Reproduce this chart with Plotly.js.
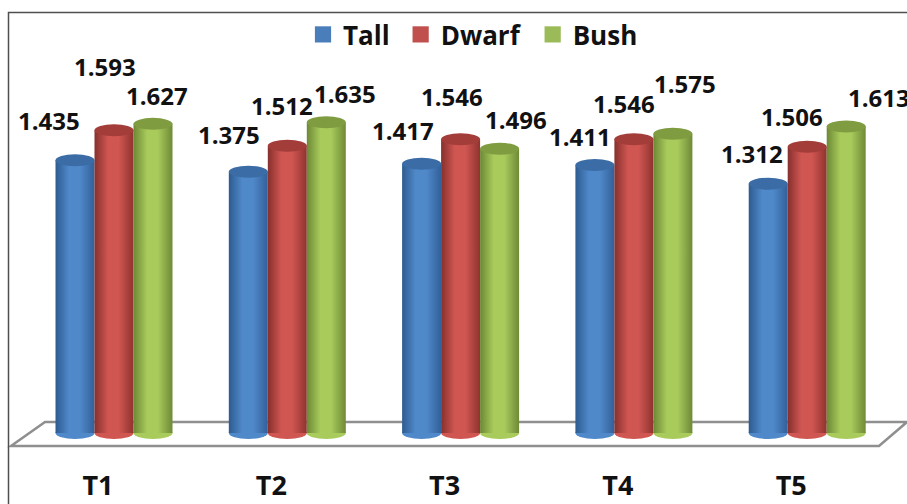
<!DOCTYPE html>
<html>
<head>
<meta charset="utf-8">
<script src="https://cdn.plot.ly/plotly-3.0.1.min.js"></script>
<style>html,body{margin:0;padding:0;background:#fff;overflow:hidden}#chart{width:907px;height:504px}</style>
</head>
<body>
<div id="chart"></div>
<script>
// Plant type means per treatment
const categories = ['T1', 'T2', 'T3', 'T4', 'T5'];
const tall  = [1.435, 1.375, 1.417, 1.411, 1.312];
const dwarf = [1.593, 1.512, 1.546, 1.546, 1.506];
const bush  = [1.627, 1.635, 1.496, 1.575, 1.613];
const seriesNames = ['Tall', 'Dwarf', 'Bush'];

// Hand-placed value label nudges, in pixels from each cylinder's top centre
const tallNudge  = [[-26, 40], [-19, 37], [-19, 33], [-15, 28], [-16, 30]];
const dwarfNudge = [[-9, 64], [-5, 40], [-9, 43], [-10, 36], [-15, 30]];
const bushNudge  = [[4, 28], [19, 29], [16, 29], [12, 50], [33, 29]];

// Extra spacing of the legend entries, in pixels
const legendShift = [0, 6, 12];

// Cylinder shading: edge, mid and cap tones per series
const tones = [
  {edgeL: '#2d5b90', mid: '#5089ca', edgeR: '#32609a', cap: '#3b6ca5', solid: '#4a7ebb'},
  {edgeL: '#86302d', mid: '#d05652', edgeR: '#8f332f', cap: '#a33d39', solid: '#c0504d'},
  {edgeL: '#6d8835', mid: '#a8cb5c', edgeR: '#6f8a36', cap: '#7f9c40', solid: '#9bbb59'}
];

const W = 907, H = 504;
const marginB = 54;
const plotH = H - marginB;
const catStep = 173.3;      // pixels between treatment groups
const firstCat = 114;       // pixel centre of the first group
const unitPx = 190;         // pixels per unit of value
const basePx = 433;         // pixel row of value zero
const barFrac = 0.225;      // one cylinder's width in category units
const capRy = 6 / unitPx;   // cap half height in value units

const xs = categories.map((_, i) => i);
const values = [tall, dwarf, bush];
const nudges = [tallNudge, dwarfNudge, bushNudge];

const px = v => v / W;
const py = v => (plotH - v) / plotH;

const traces = values.map((v, s) => ({
  type: 'bar', name: seriesNames[s], x: xs, y: v,
  marker: {color: tones[s].solid, line: {width: 0}},
  hoverinfo: 'x+y'
}));

const shapes = [];
// Floor parallelogram behind the cylinders
shapes.push({
  type: 'path', layer: 'below', xref: 'paper', yref: 'paper',
  path: `M${px(11)},${py(446)} L${px(879)},${py(446)} L${px(907)},${py(422)} L${px(45)},${py(422)} Z`,
  line: {color: '#8f8f8f', width: 2.5}, fillcolor: 'rgba(0,0,0,0)'
});
// Outer frame
shapes.push({
  type: 'path', layer: 'below', xref: 'paper', yref: 'paper',
  path: `M${px(8.5)},${py(504)} L${px(8.5)},${py(12.5)} L${px(907)},${py(12.5)}`,
  line: {color: '#4f4f4f', width: 1.5}
});
// Rounded base and top of each cylinder
values.forEach((v, s) => v.forEach((val, i) => {
  const c = xs[i] + (s - 1) * barFrac;
  const ell = (yc, fill, layer, name) => ({
    type: 'circle', xref: 'x', yref: 'y', layer, name,
    x0: c - barFrac / 2, x1: c + barFrac / 2,
    y0: yc - capRy, y1: yc + capRy,
    fillcolor: fill, line: {width: 0}
  });
  shapes.push(ell(0, tones[s].mid, 'below', `base-${s}`));
  shapes.push(ell(val, tones[s].cap, 'above', `cap-${s}`));
}));

const labelFont = {family: '"Open Sans", sans-serif', size: 24, color: '#111', weight: 700};
const annotations = [];
values.forEach((v, s) => v.forEach((val, i) => {
  annotations.push({
    x: xs[i] + (s - 1) * barFrac, y: val, xref: 'x', yref: 'y',
    text: val.toFixed(3), showarrow: false, font: labelFont,
    xshift: nudges[s][i][0], yshift: nudges[s][i][1],
    xanchor: 'center', yanchor: 'middle'
  });
}));

const layout = {
  width: W, height: H,
  margin: {l: 0, r: 0, t: 0, b: marginB, pad: 0},
  paper_bgcolor: '#fff', plot_bgcolor: 'rgba(0,0,0,0)',
  barmode: 'group', bargap: 1 - 3 * barFrac, bargroupgap: 0,
  showlegend: true,
  legend: {
    orientation: 'h', x: 303 / W, xanchor: 'left', y: 1 - 11 / plotH, yanchor: 'top',
    font: {family: '"Open Sans", sans-serif', size: 26, color: '#111', weight: 700},
    itemclick: false, itemdoubleclick: false, bgcolor: 'rgba(0,0,0,0)', itemwidth: 30
  },
  xaxis: {
    type: 'linear',
    range: [-firstCat / catStep, (W - firstCat) / catStep],
    tickmode: 'array',
    tickvals: xs.map(i => i - 16 / catStep),
    ticktext: categories,
    tickfont: {family: '"Open Sans", sans-serif', size: 27, color: '#111', weight: 700},
    ticks: 'outside', ticklen: 12, tickcolor: 'rgba(0,0,0,0)',
    showgrid: false, zeroline: false, showline: false, fixedrange: true
  },
  yaxis: {
    visible: false, fixedrange: true,
    range: [(basePx - plotH) / unitPx, basePx / unitPx]
  },
  shapes, annotations
};

Plotly.newPlot('chart', traces, layout, {displayModeBar: false}).then(gd => {
  const svg = gd.querySelector('.main-svg');
  const defs = svg.querySelector('defs');
  const NS = 'http://www.w3.org/2000/svg';
  tones.forEach((t, s) => {
    const g = document.createElementNS(NS, 'linearGradient');
    g.setAttribute('id', 'cyl' + s);
    [[0, t.edgeL], [0.35, t.mid], [0.62, t.mid], [1, t.edgeR]].forEach(([o, c]) => {
      const st = document.createElementNS(NS, 'stop');
      st.setAttribute('offset', o);
      st.setAttribute('stop-color', c);
      g.appendChild(st);
    });
    defs.appendChild(g);
  });
  // Round the flat bars into cylinders with a horizontal shade
  gd.querySelectorAll('.barlayer .trace.bars').forEach((tr, s) => {
    tr.querySelectorAll('path').forEach(p => { p.style.fill = `url(#cyl${s})`; });
  });
  // Base ellipses carry the same shade; they are emitted in series order
  let idx = 0;
  gd.querySelectorAll('.layer-below .shapelayer path').forEach(p => {
    const d = p.getAttribute('d') || '';
    if (d.includes('A')) {
      const s = Math.floor(idx / categories.length);
      p.style.fill = `url(#cyl${s})`;
      idx++;
    }
  });
  // Larger legend swatches, and wider gaps between the entries
  gd.querySelectorAll('.legend .legendpoints path').forEach(p => {
    const t = p.getAttribute('transform') || '';
    p.setAttribute('transform', t + ' scale(1.35)');
  });
  const box = gd.querySelector('.legend .scrollbox');
  if (box) box.removeAttribute('clip-path');
  gd.querySelectorAll('.legend .traces').forEach((g, s) => {
    const t = g.getAttribute('transform') || '';
    g.setAttribute('transform', `translate(${legendShift[s]},0) ${t}`);
  });
});
</script>
</body>
</html>
